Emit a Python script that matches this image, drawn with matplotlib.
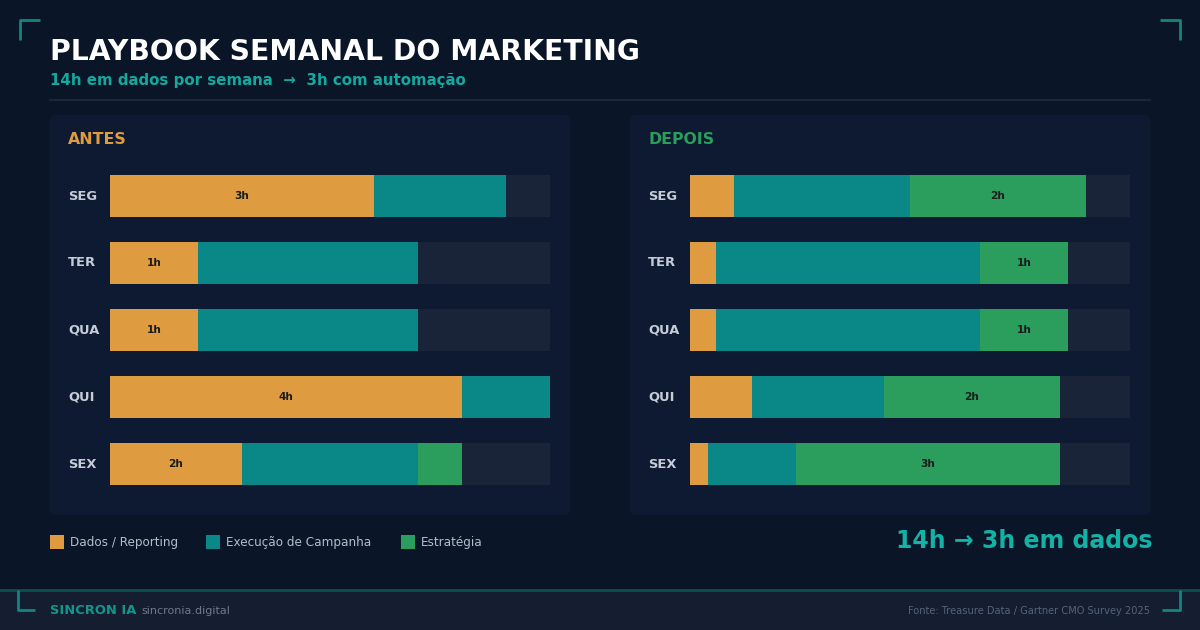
#!/usr/bin/env python3
"""Playbook semanal do marketing: antes x depois (horas por dia)."""

import matplotlib
matplotlib.use('Agg')
import matplotlib.pyplot as plt
from matplotlib.patches import FancyBboxPatch, Rectangle
from matplotlib.lines import Line2D
import numpy as np

plt.rcParams['font.family'] = ['DejaVu Sans']

# ---- data (hours per day) ----
DAYS = ['SEG', 'TER', 'QUA', 'QUI', 'SEX']
CATEGORIES = ['Dados / Reporting', 'Execução de Campanha', 'Estratégia']

ANTES_DADOS = [3.0, 1.0, 1.0, 4.0, 1.5]
ANTES_EXEC = [1.5, 2.5, 2.5, 1.0, 2.0]
ANTES_ESTR = [0.0, 0.0, 0.0, 0.0, 0.5]

DEPOIS_DADOS = [0.5, 0.3, 0.3, 0.7, 0.2]
DEPOIS_EXEC = [2.0, 3.0, 3.0, 1.5, 1.0]
DEPOIS_ESTR = [2.0, 1.0, 1.0, 2.0, 3.0]

MAX_HOURS = 5.0

# ---- colors ----
BG = '#0a1628'
PANEL = '#0e1a31'
TRACK = '#1a2439'
FOOTER = '#141e30'
C_DADOS = '#df9b40'
C_EXEC = '#0a8787'
C_ESTR = '#2b9d5c'
TEAL = '#14a99e'
SERIES_COLORS = [C_DADOS, C_EXEC, C_ESTR]

W, H = 1200, 630
fig = plt.figure(figsize=(W / 100, H / 100), dpi=100, facecolor=BG)

# background canvas in pixel coordinates
bg = fig.add_axes([0, 0, 1, 1], zorder=0)
bg.set_xlim(0, W)
bg.set_ylim(H, 0)
bg.axis('off')
bg.set_facecolor(BG)

# title block
bg.text(50, 52, 'PLAYBOOK SEMANAL DO MARKETING', color='white',
        fontsize=20.3, fontweight='bold', va='center', ha='left')
bg.text(50, 80, '14h em dados por semana  →  3h com automação', color=TEAL,
        fontsize=10.8, fontweight='bold', va='center', ha='left')
bg.add_line(Line2D([50, 1150], [100, 100], color='#1b2738', lw=1.5))

# corner brackets
corner = dict(color='#12857f', lw=2, solid_capstyle='butt')
bg.add_line(Line2D([20, 20, 40], [40, 20, 20], **corner))
bg.add_line(Line2D([1160, 1180, 1180], [20, 20, 40], **corner))

# footer band
bg.add_patch(Rectangle((0, 590), W, 40, color=FOOTER, lw=0))
bg.add_line(Line2D([0, W], [590, 590], color='#0f4f52', lw=2))
bg.add_line(Line2D([18, 18, 35], [590, 610, 610], **corner))
bg.add_line(Line2D([1162, 1180, 1180], [610, 610, 590], **corner))
bg.text(50, 610, 'SINCRON IA', color='#12968c', fontsize=9.4,
        fontweight='bold', va='center', ha='left')
bg.text(141, 610.5, 'sincronia.digital', color='#6f7a8a', fontsize=8.0,
        va='center', ha='left')
bg.text(1150, 610.5, 'Fonte: Treasure Data / Gartner CMO Survey 2025',
        color='#55627a', fontsize=7.1, va='center', ha='right')

# legend
legend_x = [50, 206, 401]
for x, label, col in zip(legend_x, CATEGORIES, SERIES_COLORS):
    bg.add_patch(Rectangle((x, 535), 14, 14, color=col, lw=0))
    bg.text(x + 20, 542.5, label, color='#b4bcc8', fontsize=8.65,
            va='center', ha='left')

bg.text(1152, 541, '14h → 3h em dados', color='#13b2a6', fontsize=17,
        fontweight='bold', va='center', ha='right')


def draw_panel(x0, title, title_color, dados, exec_, estr, label_idx):
    # panel card
    bg.add_patch(FancyBboxPatch((x0 + 4, 119), 512, 392,
                                boxstyle='round,pad=4,rounding_size=6',
                                fc=PANEL, ec='none', lw=0))
    bg.text(x0 + 18, 139.5, title, color=title_color, fontsize=11.3,
            fontweight='bold', va='center', ha='left')

    # bar axes: x from x0+60 to x0+500, rows 67 px apart
    left_px, width_px = x0 + 60, 440
    top_px, height_px = 162.5, 335
    ax = fig.add_axes([left_px / W, 1 - (top_px + height_px) / H,
                       width_px / W, height_px / H], zorder=2)
    ax.patch.set_alpha(0)
    ax.set_xlim(0, MAX_HOURS)
    ax.set_ylim(len(DAYS) - 0.5, -0.5)
    ax.axis('off')

    y = np.arange(len(DAYS))
    bh = 42 / 67
    ax.barh(y, [MAX_HOURS] * len(DAYS), height=bh, color=TRACK, lw=0)
    series = [dados, exec_, estr]
    left = np.zeros(len(DAYS))
    for i, (vals, col) in enumerate(zip(series, SERIES_COLORS)):
        vals = np.array(vals)
        ax.barh(y, vals, left=left, height=bh, color=col, lw=0)
        if i == label_idx:
            for yy, l, v in zip(y, left, vals):
                if v >= 1:
                    ax.text(l + v / 2, yy, f'{v:.0f}h', color='#1c1c1c',
                            fontsize=7.6, fontweight='bold',
                            ha='center', va='center')
        left += vals

    for yy, day in zip(y, DAYS):
        ax.text(-42 / 440 * MAX_HOURS, yy, day, color='#c5cdd9',
                fontsize=9.4, fontweight='bold', ha='left', va='center')


draw_panel(50, 'ANTES', C_DADOS, ANTES_DADOS, ANTES_EXEC, ANTES_ESTR, 0)
draw_panel(630, 'DEPOIS', C_ESTR, DEPOIS_DADOS, DEPOIS_EXEC, DEPOIS_ESTR, 2)

fig.savefig('out.png', dpi=100, facecolor=BG)
